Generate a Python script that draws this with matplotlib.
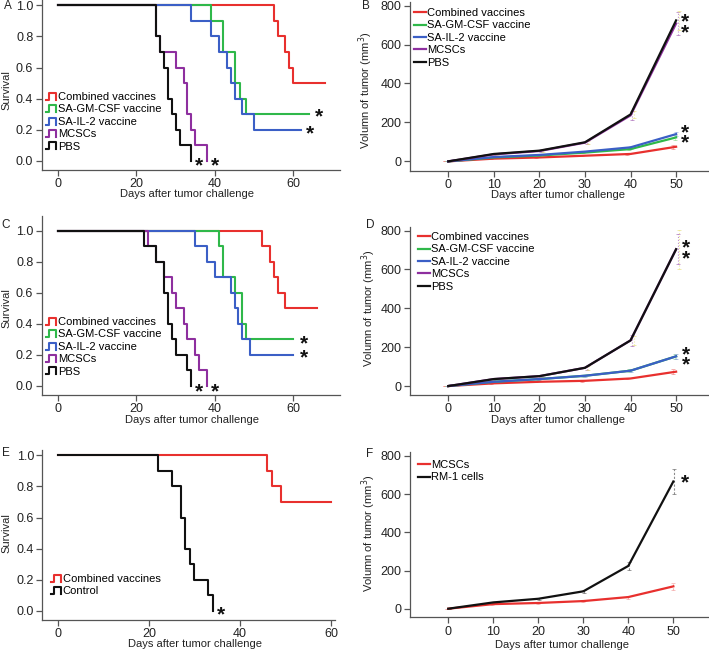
import matplotlib
matplotlib.use("Agg")
import matplotlib.pyplot as plt
from matplotlib.legend_handler import HandlerBase
from matplotlib.lines import Line2D

plt.rcParams['font.family'] = ['Liberation Sans', 'DejaVu Sans']

W, H = 709, 652

# ---------------- data ----------------
groups5 = ["Combined vaccines", "SA-GM-CSF vaccine", "SA-IL-2 vaccine", "MCSCs", "PBS"]
colors5 = ["#e8302e", "#2fb84a", "#3b5fc6", "#8e2f9f", "#111111"]

# Panel A survival (step times, survival fraction)
A_times = [
    [0, 55, 56, 58, 59, 60, 68],
    [0, 39, 42, 45, 46.5, 48, 64],
    [0, 34, 39, 41, 43, 44, 45, 47, 50, 62],
    [0, 25, 26, 30, 32, 33, 34, 35, 38],
    [0, 25, 26, 27, 28, 29, 30, 31, 34],
]
A_surv = [
    [1.0, 0.9, 0.8, 0.7, 0.6, 0.5, 0.5],
    [1.0, 0.9, 0.7, 0.5, 0.4, 0.3, 0.3],
    [1.0, 0.9, 0.8, 0.7, 0.6, 0.5, 0.4, 0.3, 0.2, 0.2],
    [1.0, 0.8, 0.7, 0.6, 0.5, 0.3, 0.2, 0.1, 0.0],
    [1.0, 0.8, 0.7, 0.6, 0.4, 0.3, 0.2, 0.1, 0.0],
]

# Panel C survival
C_times = [
    [0, 52, 54, 55, 56, 58, 66],
    [0, 41, 42, 45, 47, 48, 60],
    [0, 35, 38, 40, 44, 45, 46, 47, 49, 60],
    [0, 23, 25, 27, 29, 30, 32, 33, 35, 36, 38],
    [0, 22, 25, 27, 28, 29, 30, 33, 34],
]
C_surv = [
    [1.0, 0.9, 0.8, 0.7, 0.6, 0.5, 0.5],
    [1.0, 0.9, 0.7, 0.6, 0.4, 0.3, 0.3],
    [1.0, 0.9, 0.8, 0.7, 0.6, 0.5, 0.4, 0.3, 0.2, 0.2],
    [1.0, 0.9, 0.8, 0.7, 0.6, 0.5, 0.4, 0.3, 0.2, 0.1, 0.0],
    [1.0, 0.9, 0.8, 0.6, 0.4, 0.3, 0.2, 0.1, 0.0],
]

# Panel E survival
groupsE = ["Combined vaccines", "Control"]
colorsE = ["#e8302e", "#111111"]
E_times = [
    [0, 46, 47, 49, 60],
    [0, 22, 25, 27, 28, 29, 30, 33, 34],
]
E_surv = [
    [1.0, 0.9, 0.8, 0.7, 0.7],
    [1.0, 0.9, 0.8, 0.6, 0.4, 0.3, 0.2, 0.1, 0.0],
]

# Tumor volume
days = [0, 10, 20, 30, 40, 50]
B_vol = [
    [0, 14, 20, 29, 38, 75],
    [0, 20, 30, 45, 63, 123],
    [0, 22, 33, 50, 72, 140],
    [0, 36, 53, 96, 236, 708],
    [0, 38, 55, 98, 241, 724],
]
B_err = [
    [0, 2, 3, 4, 5, 10],
    [0, 2, 3, 4, 6, 12],
    [0, 2, 3, 4, 6, 12],
    [0, 4, 5, 8, 25, 60],
    [0, 4, 5, 8, 20, 50],
]
D_vol = [
    [0, 14, 22, 27, 39, 74],
    [0, 22, 36, 53, 79, 153],
    [0, 22, 36, 53, 79, 153],
    [0, 36, 51, 94, 235, 704],
    [0, 36, 51, 94, 235, 704],
]
D_err = [
    [0, 2, 3, 4, 5, 12],
    [0, 3, 4, 5, 7, 14],
    [0, 3, 4, 5, 7, 14],
    [0, 5, 6, 10, 28, 78],
    [0, 5, 6, 10, 25, 100],
]
groupsF = ["MCSCs", "RM-1 cells"]
colorsF = ["#e8302e", "#111111"]
F_vol = [
    [0, 24, 30, 40, 61, 117],
    [0, 33, 52, 91, 224, 666],
]
F_err = [
    [0, 2, 3, 5, 8, 20],
    [0, 3, 5, 8, 22, 68],
]
err_colors5 = ["#f08080", "#90d890", "#8fa6e0", "#a868b8", "#e8e080"]
err_colorsF = ["#f4a0a0", "#666666"]

# ---------------- helpers ----------------
fig = plt.figure(figsize=(W / 100, H / 100), dpi=100)

SPINE = "#555555"
TXT = "#222222"


def axes_px(x0, y0, x1, y1):
    return fig.add_axes([x0 / W, 1 - y1 / H, (x1 - x0) / W, (y1 - y0) / H])


def style(ax):
    for s in ("top", "right"):
        ax.spines[s].set_visible(False)
    for s in ("left", "bottom"):
        ax.spines[s].set_color(SPINE)
        ax.spines[s].set_linewidth(0.9)
    ax.tick_params(direction="out", length=4, width=0.9, color=SPINE,
                   labelsize=9, labelcolor=TXT, pad=2)


def ftext(x, y, s, **kw):
    kw.setdefault("color", TXT)
    return fig.text(x / W, 1 - y / H, s, **kw)


def add_stars(ax, stars):
    # each entry: (x, y, number of stacked asterisks, line spacing)
    for (sx, sy, n, sp) in stars:
        ax.text(sx, sy, "\n".join(["*"] * n), fontsize=15, fontweight="bold",
                ha="center", va="center", color="#111111", linespacing=sp)


class StepHandler(HandlerBase):
    def create_artists(self, legend, orig_handle, xdescent, ydescent,
                       width, height, fontsize, trans):
        w, h = width, height
        xs = [-xdescent, -xdescent + 0.25 * w, -xdescent + 0.25 * w,
              -xdescent + 0.95 * w, -xdescent + 0.95 * w]
        y0 = -ydescent + 0.05 * h
        y1 = -ydescent + 0.95 * h
        ys = [y0, y0, y1, y1, y0]
        ln = Line2D(xs, ys, color=orig_handle.get_color(), lw=1.5,
                    transform=trans)
        return [ln]


def surv_panel(rect, xlim, ylim, times, surv, names, cols, stars,
               leg_anchor, xticks):
    ax = axes_px(*rect)
    style(ax)
    handles = []
    for t, s, n, c in zip(times, surv, names, cols):
        ln, = ax.step(t, s, where="post", color=c, lw=1.5, label=n)
        handles.append(ln)
    ax.set_xlim(*xlim)
    ax.set_ylim(*ylim)
    ax.set_xticks(xticks)
    ax.set_yticks([0, 0.2, 0.4, 0.6, 0.8, 1.0])
    ax.set_yticklabels(["0.0", "0.2", "0.4", "0.6", "0.8", "1.0"])
    add_stars(ax, stars)
    ax.legend(handles=handles, handler_map={Line2D: StepHandler()},
              loc="upper left", bbox_to_anchor=(leg_anchor[0] / W, 1 - leg_anchor[1] / H),
              bbox_transform=fig.transFigure, frameon=False, fontsize=8,
              handlelength=0.9, handleheight=0.7, handletextpad=0.15,
              labelspacing=0.22, borderpad=0, borderaxespad=0)
    return ax


def vol_panel(rect, xlim, ylim, vols, errs, names, cols, ecols, stars,
              leg_anchor, dashed_err=False):
    ax = axes_px(*rect)
    style(ax)
    handles = []
    n = len(vols)
    for i, (v, e, nm, c, ec) in enumerate(zip(vols, errs, names, cols, ecols)):
        off = (i - (n - 1) / 2) * 0.35
        xs = [d + off for d in days]
        eb = ax.errorbar(xs, v, yerr=e, fmt="none", ecolor=ec, elinewidth=0.8,
                         capsize=1.5, capthick=0.6, alpha=0.75, zorder=1)
        eb[2][0].set_linestyle(":" if not dashed_err else (0, (2, 1.5)))
    for v, nm, c in zip(vols, names, cols):
        ln, = ax.plot(days, v, color=c, lw=1.6, label=nm, zorder=3,
                      solid_joinstyle="round")
        handles.append(ln)
    ax.set_xlim(*xlim)
    ax.set_ylim(*ylim)
    ax.set_xticks(days)
    ax.set_yticks([0, 200, 400, 600, 800])
    add_stars(ax, stars)
    ax.legend(handles=handles, loc="upper left",
              bbox_to_anchor=(leg_anchor[0] / W, 1 - leg_anchor[1] / H),
              bbox_transform=fig.transFigure, frameon=False, fontsize=8,
              handlelength=1.05, handletextpad=0.15, labelspacing=0.22,
              borderpad=0, borderaxespad=0)
    return ax


XL = "Days after tumor challenge"
YS = "Survival"
YV = "Volumn of tumor (mm$^3$)"

# ---------------- Panel A ----------------
surv_panel((41.7, 0, 340, 170), (-4.16, 71.9), (-0.058, 1.034),
           A_times, A_surv, groups5, colors5,
           [(66.6, 0.28, 1, 1), (64.3, 0.175, 1, 1), (36, -0.03, 1, 1),
            (40, -0.03, 1, 1)],
           (46, 92), [0, 20, 40, 60])
# ---------------- Panel C ----------------
surv_panel((41.7, 216, 340, 395), (-4.16, 71.9), (-0.058, 1.095),
           C_times, C_surv, groups5, colors5,
           [(62.8, 0.225, 2, 0.66), (36, -0.035, 1, 1), (40, -0.035, 1, 1)],
           (46, 317), [0, 20, 40, 60])
# ---------------- Panel E ----------------
surv_panel((42.3, 450, 335, 620), (-3.45, 60.9), (-0.058, 1.034),
           E_times, E_surv, groupsE, colorsE,
           [(35.8, -0.025, 1, 1)],
           (51, 574), [0, 20, 40, 60])

# ---------------- Panel B ----------------
vol_panel((410, 1.7, 708, 170.7), (-8.4, 57), (-48, 820),
          B_vol, B_err, groups5, colors5, err_colors5,
          [(51.9, 688, 2, 0.42), (51.9, 120, 2, 0.42)],
          (414, 8))
# ---------------- Panel D ----------------
vol_panel((410, 226.7, 708, 395), (-8.4, 57), (-46, 820),
          D_vol, D_err, groups5, colors5, err_colors5,
          [(52.2, 683, 2, 0.42), (52.2, 133, 2, 0.42)],
          (418, 232))
# ---------------- Panel F ----------------
vol_panel((410, 451.7, 708, 617.3), (-8.5, 57.7), (-45, 822),
          F_vol, F_err, groupsF, colorsF, err_colorsF,
          [(52.6, 660, 1, 1)],
          (418, 460), dashed_err=True)

# ---------------- labels ----------------
for (x, y, s) in [(8, 6, "A"), (366, 6, "B"), (6, 225, "C"), (370, 225, "D"),
                  (6, 453, "E"), (370, 454, "F")]:
    ftext(x, y, s, fontsize=8.5, ha="center", va="center")

for (x, y) in [(6, 90), (6, 308), (6, 533)]:
    ftext(x, y, YS, fontsize=8, rotation=90, ha="center", va="center")
for (x, y) in [(366, 90), (369, 308), (369, 533)]:
    ftext(x, y, YV, fontsize=8, rotation=90, ha="center", va="center")
for (x, y) in [(187, 194), (192, 420), (195, 644), (558, 195), (558, 420), (562, 645)]:
    ftext(x, y, XL, fontsize=8, ha="center", va="center")

fig.savefig("out.png", dpi=100)
